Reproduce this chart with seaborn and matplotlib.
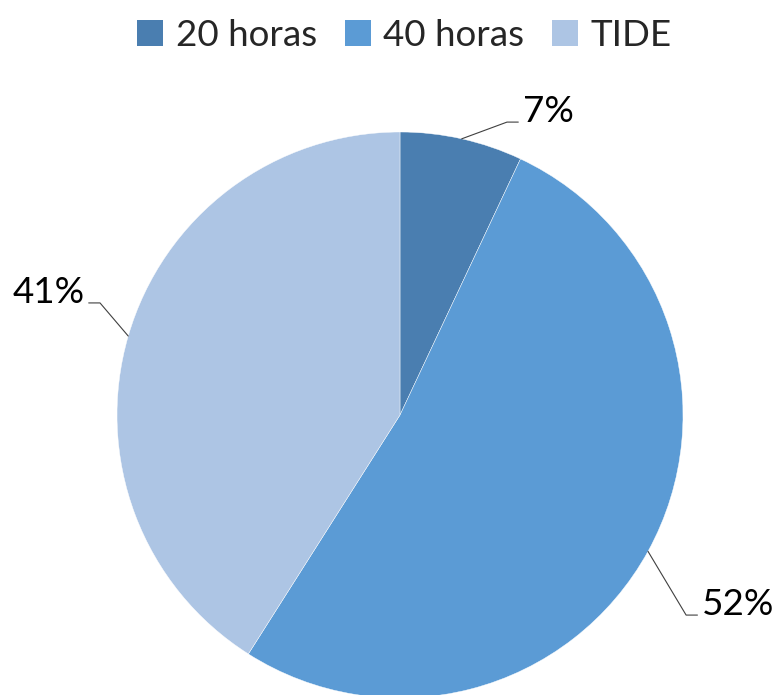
import numpy as np
import seaborn as sns
import matplotlib.pyplot as plt
from matplotlib.patches import Patch

sns.set_theme(style='white')
plt.rcParams['font.family'] = ['Lato', 'DejaVu Sans']

# data
categories = ['20 horas', '40 horas', 'TIDE']
shares = [7, 52, 41]
colors = ['#4a7eb0', '#5b9bd5', '#adc5e4']

# label layout (elbow of leader line, in pie-radius units)
elbows = [(0.378, 1.035), (1.011, -0.707), (-1.060, 0.396)]
tail = 0.04

fig = plt.figure(figsize=(7.78, 6.95), dpi=100)
ax = fig.add_axes([0, 0, 1, 1])
wedges, _ = ax.pie(shares, colors=colors, startangle=90, counterclock=False,
                   radius=1, center=(0, 0),
                   wedgeprops=dict(edgecolor='white', linewidth=0.3))

for w, s, (ex, ey) in zip(wedges, shares, elbows):
    ang = np.deg2rad((w.theta1 + w.theta2) / 2)
    px, py = np.cos(ang), np.sin(ang)
    side = 1 if ex > 0 else -1
    ax.plot([px, ex, ex + side * tail], [py, ey, ey], color='#404040', lw=0.8)
    ax.text(ex + side * (tail + 0.015), ey, f'{s}%', fontsize=26.5,
            ha='left' if side > 0 else 'right', va='baseline', color='black')

r = 283
ax.set_xlim(-400 / r, 378 / r)
ax.set_ylim(-280 / r, 415 / r)
ax.set_aspect('auto')
ax.axis('off')

handles = [Patch(facecolor=c, edgecolor='none') for c in colors]
fig.legend(handles, categories, loc='upper center', bbox_to_anchor=(0.52, 1.02),
           ncol=3, frameon=False, fontsize=26.5, handlelength=0.7, handleheight=0.7,
           handletextpad=0.35, columnspacing=0.75)

fig.savefig('out.png', dpi=100)
